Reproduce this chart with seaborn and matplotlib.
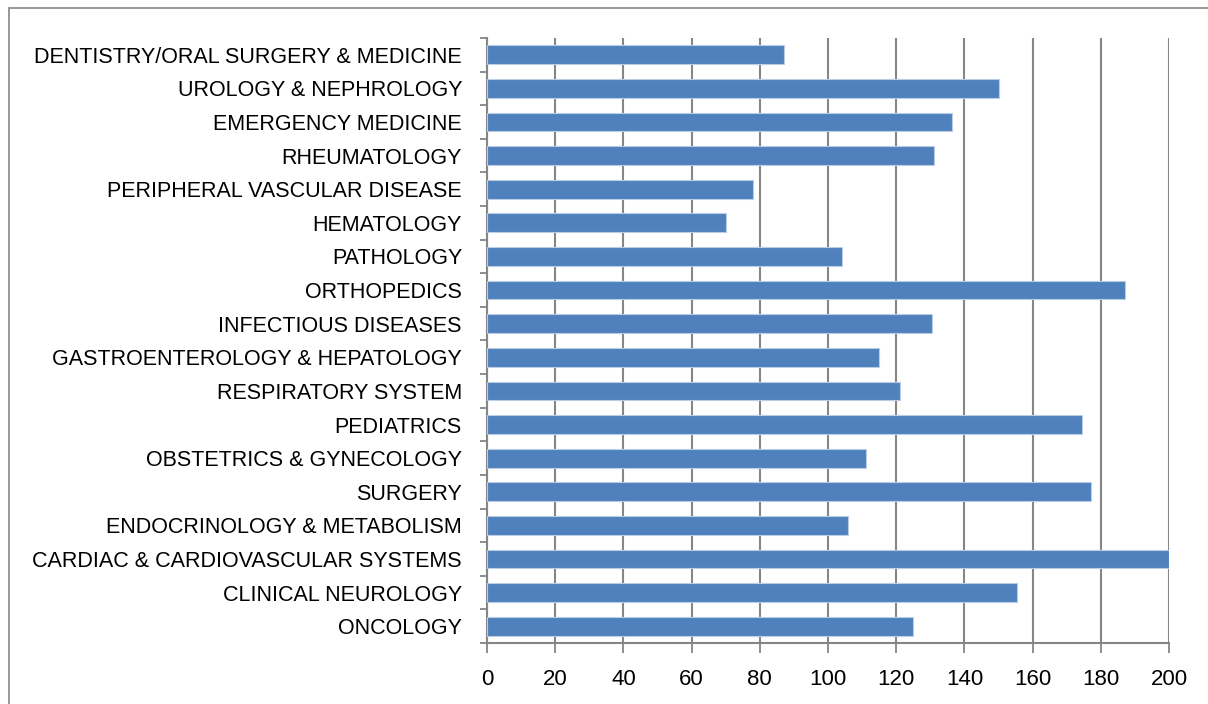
import numpy as np
import pandas as pd
import matplotlib
matplotlib.use("Agg")
import matplotlib.pyplot as plt
import seaborn as sns
from matplotlib.patches import Rectangle

# categories listed top to bottom as in the chart
categories = [
    "DENTISTRY/ORAL SURGERY & MEDICINE",
    "UROLOGY & NEPHROLOGY",
    "EMERGENCY MEDICINE",
    "RHEUMATOLOGY",
    "PERIPHERAL VASCULAR DISEASE",
    "HEMATOLOGY",
    "PATHOLOGY",
    "ORTHOPEDICS",
    "INFECTIOUS DISEASES",
    "GASTROENTEROLOGY & HEPATOLOGY",
    "RESPIRATORY SYSTEM",
    "PEDIATRICS",
    "OBSTETRICS & GYNECOLOGY",
    "SURGERY",
    "ENDOCRINOLOGY & METABOLISM",
    "CARDIAC & CARDIOVASCULAR SYSTEMS",
    "CLINICAL NEUROLOGY",
    "ONCOLOGY",
]
values = [87, 150, 136.5, 131, 78, 70, 104, 187, 130.5,
          115, 121, 174.5, 111, 177, 106, 200, 155.5, 125]
x_ticks = [0, 20, 40, 60, 80, 100, 120, 140, 160, 180, 200]

df = pd.DataFrame({"category": categories, "value": values})

sns.set_style("white")
plt.rcParams["font.family"] = ["Liberation Sans", "DejaVu Sans"]

fig = plt.figure(figsize=(12.08, 7.04), dpi=100)
ax = fig.add_axes([487 / 1208, 1 - 643 / 704, 682 / 1208, 605 / 704])

grey = "#868686"

# chart frame (cut off at right and bottom)
fig.patches.append(Rectangle((9 / 1208, -0.1), 1.2, 1 - 8 / 704 + 0.1,
                             transform=fig.transFigure, fill=False,
                             edgecolor=grey, linewidth=1.2))

sns.barplot(data=df, x="value", y="category", order=categories,
            color="#4F81BD", saturation=1, width=0.56,
            edgecolor="#B9CDE5", linewidth=0.8, ax=ax, zorder=3)

ax.set_xlim(0, 200)
ax.set_ylim(len(categories) - 0.5, -0.5)
ax.set_xticks(x_ticks)
ax.set_xticklabels([str(t) for t in x_ticks])
ax.xaxis.grid(True, color=grey, linewidth=1.5, zorder=0)
ax.set_axisbelow(True)
ax.set_xlabel("")
ax.set_ylabel("")

ax.set_yticks(np.arange(-0.5, len(categories), 1), minor=True)
ax.tick_params(axis="y", which="major", length=0, pad=18, labelsize=15.5,
               labelcolor="black")
ax.tick_params(axis="y", which="minor", length=5, width=1.3, color=grey, left=True)
ax.tick_params(axis="x", which="major", length=7, width=1.3, color=grey,
               bottom=True, pad=12, labelsize=16, labelcolor="black")

for side in ["top", "right"]:
    ax.spines[side].set_visible(False)
for side in ["left", "bottom"]:
    ax.spines[side].set_color(grey)
    ax.spines[side].set_linewidth(1.5)

fig.savefig("out.png", dpi=100)
